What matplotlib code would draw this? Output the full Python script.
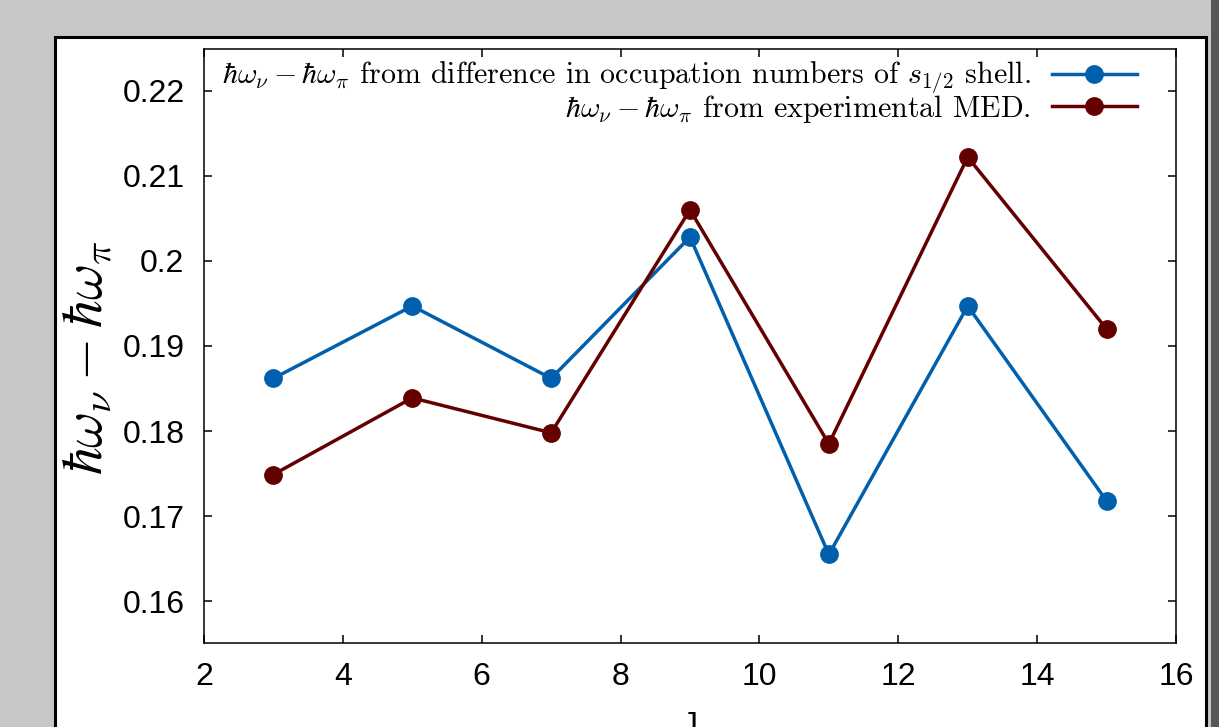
import matplotlib
matplotlib.use("Agg")
import matplotlib.pyplot as plt
from matplotlib.patches import Rectangle

# values
J = [3, 5, 7, 9, 11, 13, 15]
occ_diff = [0.1862, 0.1947, 0.1862, 0.2028, 0.1655, 0.1947, 0.1718]
exp_med = [0.1749, 0.1839, 0.1798, 0.2060, 0.1785, 0.2122, 0.1920]
xticks = [2, 4, 6, 8, 10, 12, 14, 16]
yticks = [0.16, 0.17, 0.18, 0.19, 0.2, 0.21, 0.22]
ytick_labels = ["0.16", "0.17", "0.18", "0.19", "0.2", "0.21", "0.22"]

W, H = 1219, 727
plt.rcParams['mathtext.fontset'] = 'cm'
fig = plt.figure(figsize=(W / 100, H / 100), dpi=100, facecolor='#c6c7c6')

# page of the screenshot, drawn behind the axes
fig.patches.append(Rectangle((55 / W, -0.1), 1151 / W, 1.1 - 37 / H,
                             transform=fig.transFigure, facecolor='white',
                             edgecolor='black', linewidth=2.2, zorder=-2))
fig.patches.append(Rectangle((1211 / W, 0), 8 / W, 1, transform=fig.transFigure,
                             facecolor='#54585b', edgecolor='none', zorder=-2))

ax = fig.add_axes([204 / W, 1 - 643 / H, 972 / W, 594 / H])
ax.set_facecolor('white')

ax.plot(J, occ_diff, color='#0060ad', lw=2.5, marker='o', ms=12.5,
        label=r"$\hbar\omega_\nu - \hbar\omega_\pi$ from difference in occupation numbers of $s_{1/2}$ shell.")
ax.plot(J, exp_med, color='#650000', lw=2.5, marker='o', ms=12.5,
        label=r"$\hbar\omega_\nu - \hbar\omega_\pi$ from experimental MED.")

ax.set_xlim(2, 16)
ax.set_ylim(0.1551, 0.2249)
ax.set_xticks(xticks)
ax.set_yticks(yticks)
ax.set_yticklabels(ytick_labels)
ax.tick_params(direction='in', length=6, width=1.1, top=True, right=True,
               labelsize=23, pad=14)
for lab in ax.get_xticklabels() + ax.get_yticklabels():
    lab.set_family('Liberation Sans')
for s in ax.spines.values():
    s.set_linewidth(1.1)

ax.legend(loc='upper right', bbox_to_anchor=(1137 / W, 1 - 60 / H),
          bbox_transform=fig.transFigure, frameon=False, markerfirst=False,
          prop={'family': 'cmr10', 'size': 21.6}, handlelength=2.85,
          handletextpad=0.7, borderpad=0, borderaxespad=0, labelspacing=-0.12)

fig.text(87 / W, 1 - 358 / H, r"$\hbar\omega_\nu - \hbar\omega_\pi$",
         rotation=90, ha='center', va='center', fontsize=40)
# x label: only its top shows, the page is cut at the bottom edge
fig.text(690 / W, 1 - 711 / H, "J", family='Liberation Sans', fontsize=23,
         ha='center', va='top')

fig.savefig("out.png", dpi=100, facecolor=fig.get_facecolor())
